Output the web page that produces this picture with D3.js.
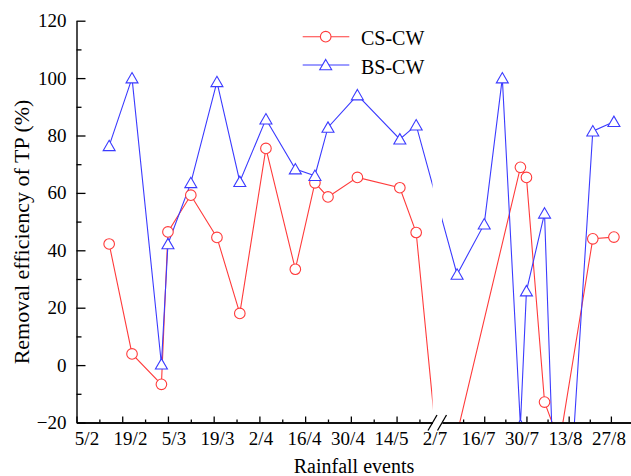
<!DOCTYPE html>
<html>
<head>
<meta charset="utf-8">
<script src="https://cdn.jsdelivr.net/npm/d3@7"></script>
<style>
  html, body { margin: 0; padding: 0; background: #fff; }
  svg { display: block; }
  text { font-family: "Liberation Serif", "Times New Roman", serif; fill: #000; }
</style>
</head>
<body>
<svg id="chart" width="631" height="476"></svg>
<script>
// ---------------- data ----------------
const eventDates = ["2021-02-15","2021-02-22","2021-03-03","2021-03-05","2021-03-12","2021-03-20","2021-03-27","2021-04-04","2021-04-13","2021-04-19","2021-04-23","2021-05-02","2021-05-15","2021-05-20","2021-07-02","2021-07-07","2021-07-16","2021-07-22","2021-07-28","2021-07-30","2021-08-05","2021-08-10","2021-08-21","2021-08-28"];
const csCW = [42.2, 3.9, -6.7, 46.4, 59.2, 44.5, 18.0, 75.5, 33.4, 63.5, 58.6, 65.4, 61.8, 46.2, -46, null, null, null, 68.9, 65.4, -12.9, -27, 44.0, 44.6];
const bsCW = [76.4, 100, 0.3, 42.2, 63.5, 98.7, 63.9, 85.7, 68.3, 66.0, 82.8, 94.1, 78.7, 83.6, null, 31.6, 49.1, 100, -21, 25.8, 52.9, -102, 81.5, 84.8];
const seriesNames = ["CS-CW", "BS-CW"];
const xTickLabels = ["5/2","19/2","5/3","19/3","2/4","16/4","30/4","14/5","2/7","16/7","30/7","13/8","27/8"];
const yTicks = [-20, 0, 20, 40, 60, 80, 100, 120];
const leftSegment = ["2021-02-05", "2021-05-25"];
const rightSegment = ["2021-07-02", "2021-09-03"];
const xTitle = "Rainfall events";
const yTitle = "Removal efficiency of TP (%)";

// ---------------- scales ----------------
const parse = d3.utcParse("%Y-%m-%d");
const svg = d3.select("#chart");
const plotTop = 20.7, plotBottom = 422.5, plotLeft = 76.5;

const xL = d3.scaleUtc().domain(leftSegment.map(parse)).range([plotLeft, 432.5]);
const xR = d3.scaleUtc().domain(rightSegment.map(parse)).range([442, 632]);
const x = d => (d <= xL.domain()[1] ? xL(d) : xR(d));
const y = d3.scaleLinear().domain([-20, 120]).range([plotBottom, plotTop]);

const colors = ["#ff3b3b", "#3b3bff"];

// clip (plot area with the axis break removed)
const defs = svg.append("defs");
const clip = defs.append("clipPath").attr("id", "plotclip");
clip.append("rect").attr("x", xL.range()[0]).attr("y", plotTop - 15).attr("width", xL.range()[1] - xL.range()[0]).attr("height", plotBottom - plotTop + 15);
clip.append("rect").attr("x", xR.range()[0]).attr("y", plotTop - 15).attr("width", 631 - xR.range()[0]).attr("height", plotBottom - plotTop + 15);

// ---------------- series ----------------
const series = [csCW, bsCW].map((vals, i) => ({
  name: seriesNames[i],
  color: colors[i],
  points: eventDates.map((d, j) => ({ date: parse(d), value: vals[j] })).filter(p => p.value !== null)
}));

const line = d3.line().x(p => x(p.date)).y(p => y(p.value));
const plot = svg.append("g").attr("clip-path", "url(#plotclip)");

series.forEach(s => {
  plot.append("path").datum(s.points)
    .attr("d", line).attr("fill", "none")
    .attr("stroke", s.color).attr("stroke-width", 1.1);
});

const triPath = "M0,-5.6L6,4.8L-6,4.8Z";
function drawMarker(g, i, cx, cy, color) {
  if (i === 0) {
    g.append("circle").attr("cx", cx).attr("cy", cy).attr("r", 5.3)
      .attr("fill", "#fff").attr("stroke", color).attr("stroke-width", 1.1);
  } else {
    g.append("path").attr("d", triPath).attr("transform", `translate(${cx},${cy})`)
      .attr("fill", "#fff").attr("stroke", color).attr("stroke-width", 1.1);
  }
}
series.forEach((s, i) => {
  s.points.forEach(p => drawMarker(plot, i, x(p.date), y(p.value), s.color));
});

// ---------------- axes ----------------
function weekly(scale) {
  const [a, b] = scale.domain();
  return d3.utcDay.range(a, d3.utcDay.offset(b, 1), 7);
}
const leftTicks = weekly(xL);
const leftMajor = leftTicks.filter((d, i) => i % 2 === 0);
const leftMinor = leftTicks.filter((d, i) => i % 2 === 1);
const rightMajor = weekly(xR).filter((d, i) => i > 0 && i % 2 === 0);
const rightMinor = weekly(xR).filter((d, i) => i % 2 === 1);

const axisStyle = g => {
  g.selectAll("path.domain").attr("stroke", "#000").attr("stroke-width", 1.4);
  g.selectAll(".tick line").attr("stroke", "#000").attr("stroke-width", 1.3);
  g.selectAll(".tick text").remove();
};

[[xL, leftMajor, leftMinor], [xR, rightMajor, rightMinor]].forEach(([sc, maj, mnr]) => {
  svg.append("g").attr("transform", `translate(0,${plotBottom})`)
    .call(d3.axisBottom(sc).tickValues(maj).tickSize(-6).tickSizeOuter(0).tickFormat(""))
    .call(axisStyle);
  svg.append("g").attr("transform", `translate(0,${plotBottom})`)
    .call(d3.axisBottom(sc).tickValues(mnr).tickSize(-3).tickSizeOuter(0).tickFormat(""))
    .call(axisStyle);
});

// x tick labels (evenly spaced along the axis as in the original)
const xLab = d3.scalePoint().domain(xTickLabels).range([87, 609]);
svg.append("g").selectAll("text").data(xTickLabels).join("text")
  .attr("x", d => xLab(d)).attr("y", 445)
  .attr("text-anchor", "middle").attr("font-size", 19).text(d => d);

// break marks
const bx1 = xL.range()[1], bx2 = xR.range()[0];
[bx1, bx2].forEach(bx => {
  svg.append("line").attr("x1", bx - 4.5).attr("y1", plotBottom + 8).attr("x2", bx + 4.5).attr("y2", plotBottom - 7.5)
    .attr("stroke", "#000").attr("stroke-width", 1.3);
});

// y axis
const minorY = d3.range(-10, 120, 20);
svg.append("g").attr("transform", `translate(${plotLeft},0)`)
  .call(d3.axisLeft(y).tickValues(minorY).tickSize(-5).tickSizeOuter(0).tickFormat(""))
  .call(g => { g.selectAll("path.domain").remove(); g.selectAll(".tick line").attr("stroke", "#000").attr("stroke-width", 1.3); g.selectAll(".tick text").remove(); });
const yAx = svg.append("g").attr("transform", `translate(${plotLeft},0)`)
  .call(d3.axisLeft(y).tickValues(yTicks).tickSize(-9).tickSizeOuter(0).tickPadding(10));
yAx.selectAll("path.domain").attr("stroke", "#000").attr("stroke-width", 1.4);
yAx.selectAll(".tick line").attr("stroke", "#000").attr("stroke-width", 1.3);
yAx.selectAll(".tick text").attr("font-size", 19).attr("font-family", "Liberation Serif").attr("fill", "#000");

// titles
svg.append("text").attr("x", 354).attr("y", 473).attr("text-anchor", "middle")
  .attr("font-size", 20).text(xTitle);
svg.append("text").attr("transform", "translate(28.5,232) rotate(-90)").attr("text-anchor", "middle")
  .attr("font-size", 22).text(yTitle);

// legend
const leg = svg.append("g");
series.forEach((s, i) => {
  const ly = 36.7 + i * 28.3;
  leg.append("line").attr("x1", 302.7).attr("x2", 349.3).attr("y1", ly).attr("y2", ly)
    .attr("stroke", s.color).attr("stroke-width", 1.1);
  drawMarker(leg, i, 325.7, ly, s.color);
  leg.append("text").attr("x", 361).attr("y", ly + 8.5).attr("font-size", 20).text(s.name);
});
</script>
</body>
</html>
